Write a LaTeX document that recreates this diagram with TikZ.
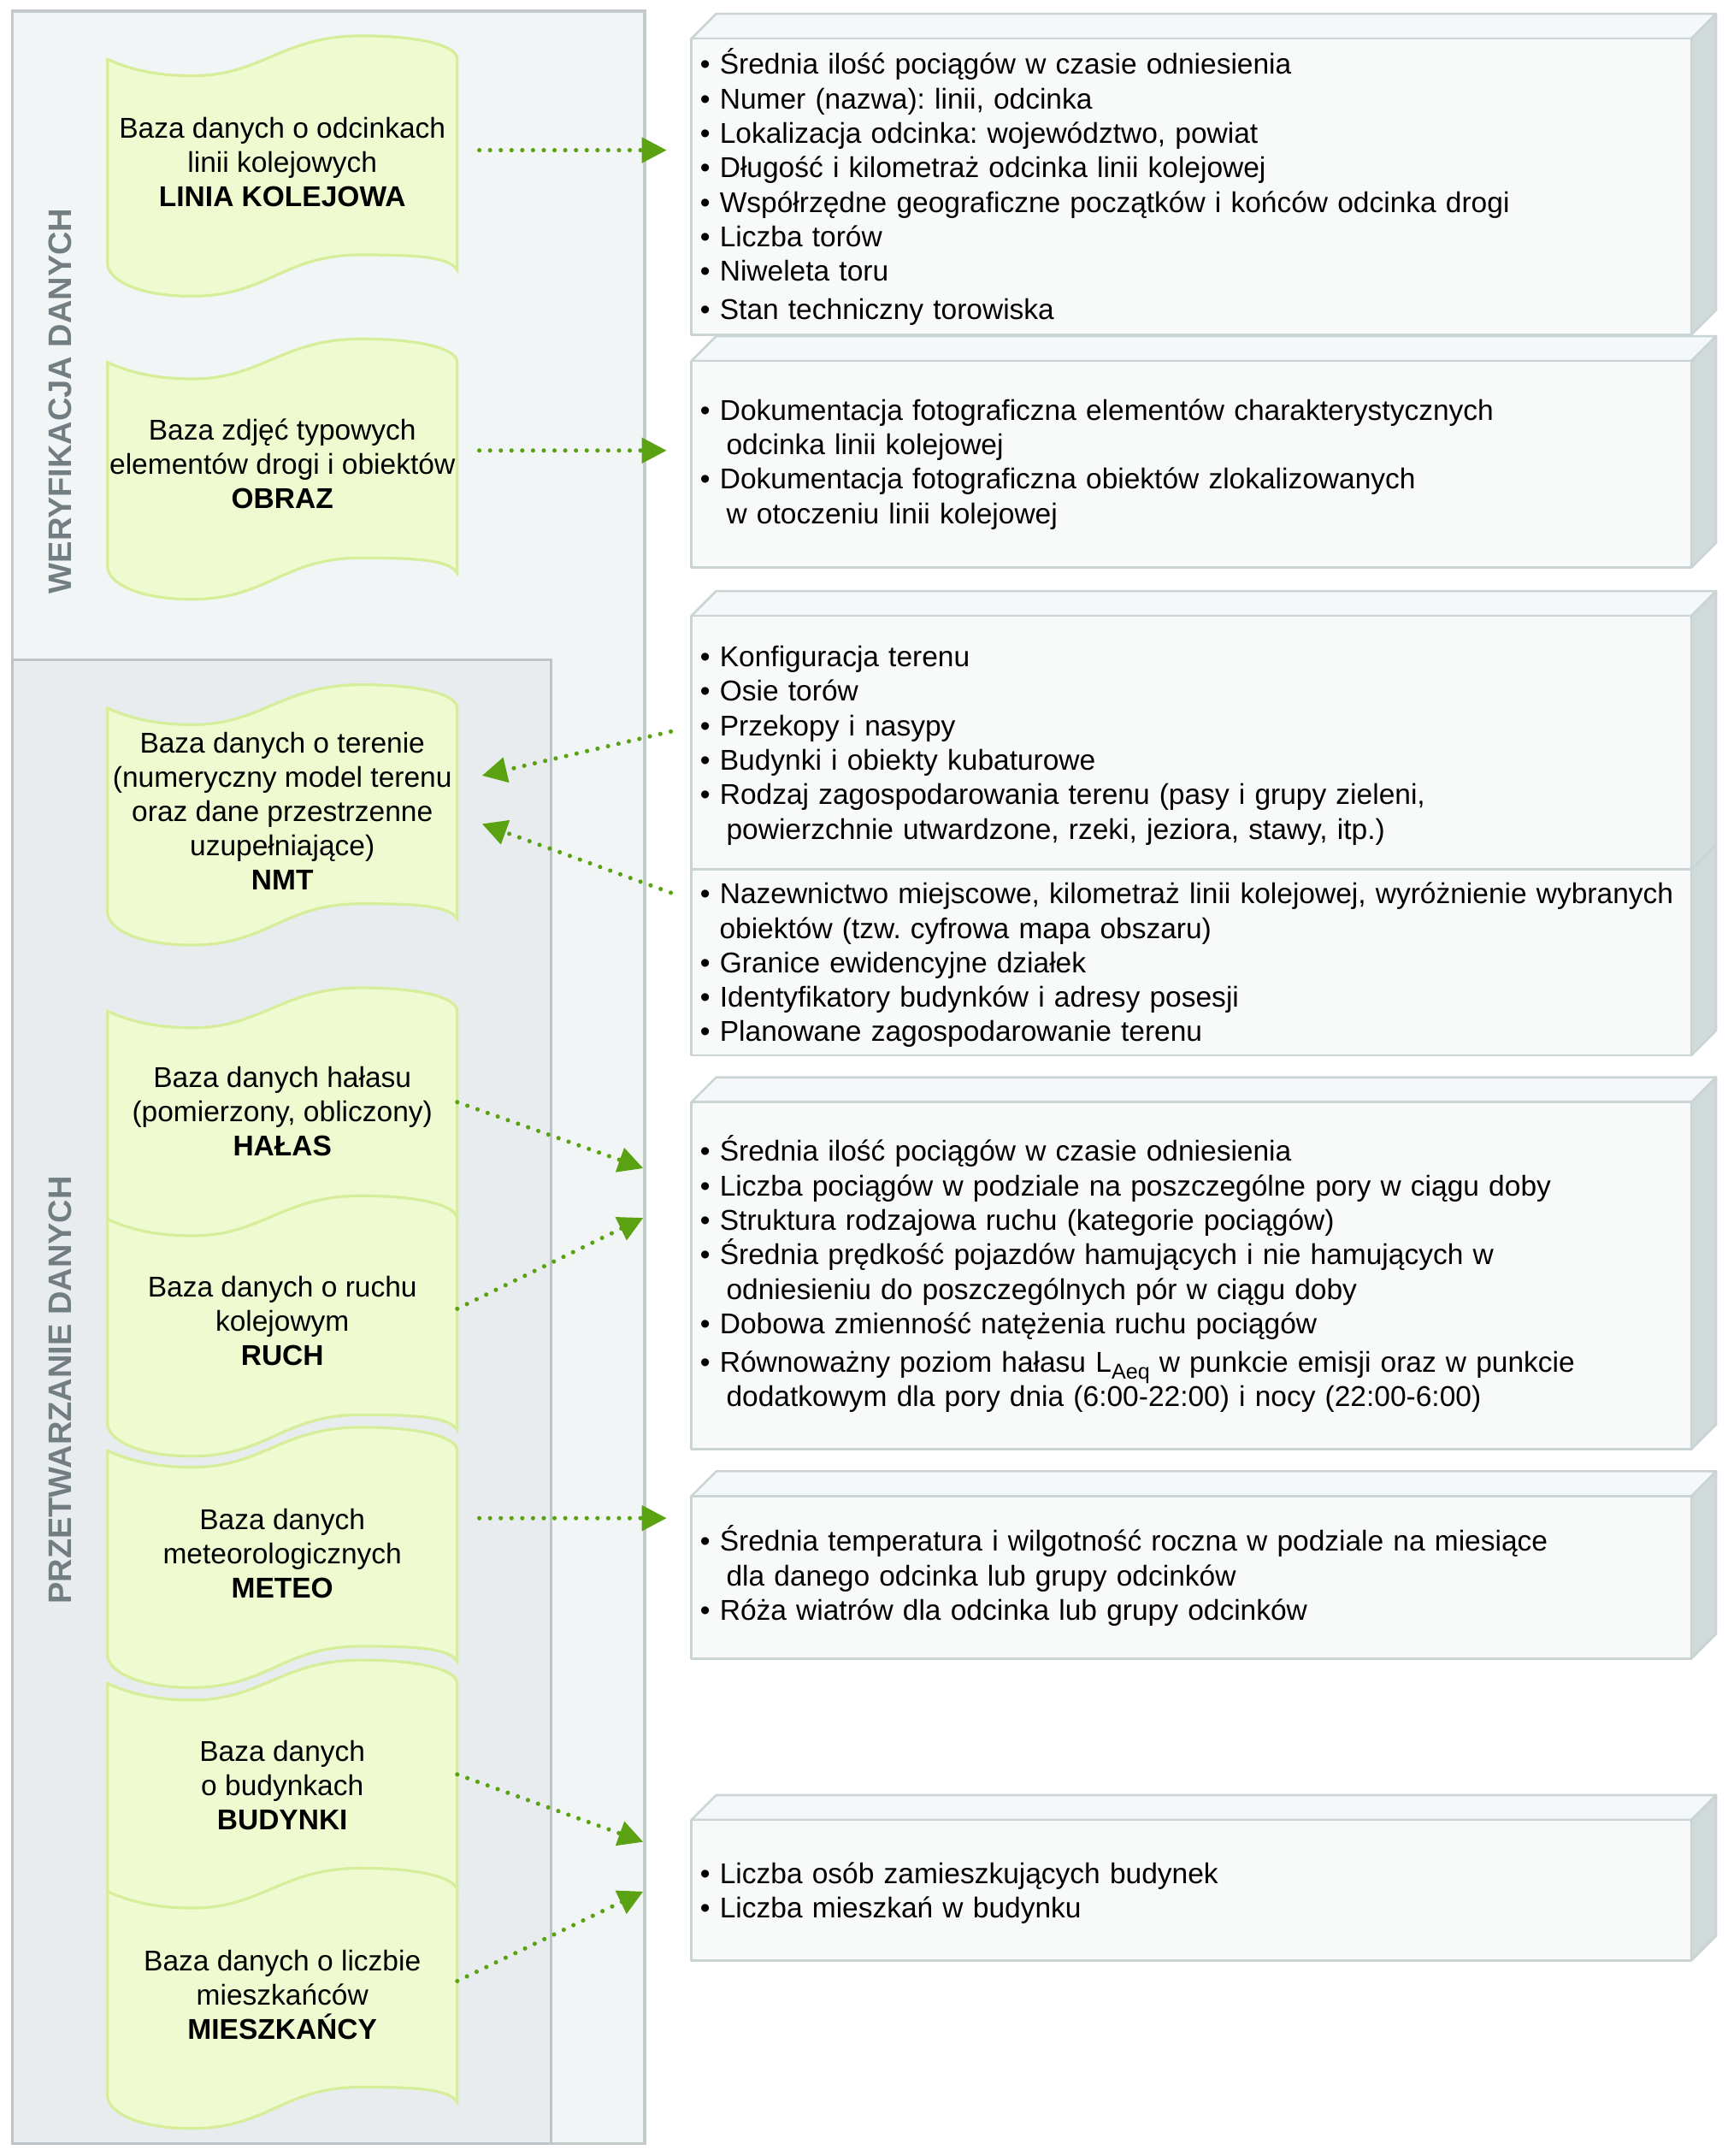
\documentclass[tikz,border=0pt]{standalone}
\usepackage{fontspec}
\setmainfont{Liberation Sans}
\usetikzlibrary{arrows.meta}
\definecolor{outerfill}{HTML}{F2F5F6}
\definecolor{outerline}{HTML}{C3CACC}
\definecolor{innerfill}{HTML}{E8ECEE}
\definecolor{innerline}{HTML}{BCC4C7}
\definecolor{docfill}{HTML}{F0FAD0}
\definecolor{docline}{HTML}{D6EE9A}
\definecolor{boxfront}{HTML}{F8FAFA}
\definecolor{boxtop}{HTML}{F5F8F8}
\definecolor{boxside}{HTML}{D0DADA}
\definecolor{boxline}{HTML}{CAD4D4}
\definecolor{arrowgreen}{HTML}{5AA212}
\definecolor{labelgray}{HTML}{737E82}
\tikzset{
  docstyle/.style={fill=docfill, draw=docline, line width=1pt},
  boxstyle/.style={draw=boxline, line width=0.8pt, line join=round},
  doctext/.style={font=\fontsize{10.4}{12.4}\selectfont, align=center, inner sep=0pt},
  righttext/.style={font=\fontsize{10.4}{12.5}\selectfont, text width=360pt, align=left, inner sep=0pt},
  sidelabel/.style={font=\bfseries\fontsize{11.8}{14}\selectfont, text=labelgray, inner sep=0pt, rotate=90},
  flow/.style={draw=arrowgreen, line width=1.6pt, line cap=round, dash pattern=on 0pt off 3.9pt, -{Triangle[length=9pt,width=9pt]}}
}
\newcommand\docshape[1]{%
  \path[docstyle, shift={(0,#1)}] (78,0) .. controls (98,9) and (118,12) .. (140,12)
    .. controls (190,12) and (205,-17) .. (262,-17)
    .. controls (305,-17) and (332,-10) .. (332,0) -- (332,153)
    .. controls (326,143) and (300,142) .. (262,142)
    .. controls (205,142) and (195,172) .. (139,172)
    .. controls (100,172) and (78,160) .. (78,148) -- cycle;}
\newcommand\tdfront[2]{%
  \path[boxstyle, fill=boxfront] (502,#1) rectangle (1228,#2);}
\newcommand\tdtop[1]{%
  \path[boxstyle, fill=boxtop] (502,#1) -- ++(18,-18) -- ++(726,0) -- ++(-18,18) -- cycle;}
\newcommand\tdside[2]{%
  \path[boxstyle, fill=boxside] (1228,#1) -- ++(18,-18) -- ++(0,#2-#1) -- ++(-18,18) -- cycle;}
\newcommand\itmf[1]{\hangindent=9.5pt\hangafter=1\noindent\textbullet\ #1}
\newcommand\itm[1]{\par\itmf{#1}}
\begin{document}
\begin{tikzpicture}[x=0.5pt, y=-0.5pt]
\frenchspacing
\path[use as bounding box, fill=white] (0,0) rectangle (1254,1565);
% panels
\path[fill=outerfill, draw=outerline, line width=1pt] (9,8) rectangle (468,1556);
\path[fill=innerfill, draw=innerline, line width=1pt] (9,479) rectangle (400,1556);
\node[sidelabel] (lab1) at (44,291) {WERYFIKACJA DANYCH};
\node[sidelabel] (lab2) at (44,1009) {PRZETWARZANIE DANYCH};
% document shapes
\docshape{43}
\docshape{263}
\docshape{514}
\docshape{734}
\docshape{885}
\docshape{1053}
\docshape{1222}
\docshape{1373}
\node[doctext, anchor=base] (linia) at (205,150) {Baza danych o odcinkach\\linii kolejowych\\\textbf{LINIA KOLEJOWA}};
\node[doctext, anchor=base] (obraz) at (205,369) {Baza zdjęć typowych\\elementów drogi i obiektów\\\textbf{OBRAZ}};
\node[doctext, anchor=base] (nmt) at (205,646) {Baza danych o terenie\\(numeryczny model terenu\\oraz dane przestrzenne\\uzupełniające)\\\textbf{NMT}};
\node[doctext, anchor=base] (halas) at (205,839) {Baza danych hałasu\\(pomierzony, obliczony)\\\textbf{HAŁAS}};
\node[doctext, anchor=base] (ruch) at (205,991) {Baza danych o ruchu\\kolejowym\\\textbf{RUCH}};
\node[doctext, anchor=base] (meteo) at (205,1160) {Baza danych\\meteorologicznych\\\textbf{METEO}};
\node[doctext, anchor=base] (budynki) at (205,1328) {Baza danych\\o budynkach\\\textbf{BUDYNKI}};
\node[doctext, anchor=base] (miesz) at (205,1480) {Baza danych o liczbie\\mieszkańców\\\textbf{MIESZKAŃCY}};
% 3D boxes
\tdtop{28}\tdfront{28}{243}\tdside{28}{243}
\tdtop{262}\tdfront{262}{412}\tdside{262}{412}
\tdtop{447}\tdfront{447}{631}\tdfront{631}{766}\tdside{447}{766}
\path[boxstyle] (1228,631) -- ++(18,-18);
\tdtop{800}\tdfront{800}{1052}\tdside{800}{1052}
\tdtop{1086}\tdfront{1086}{1204}\tdside{1086}{1204}
\tdtop{1321}\tdfront{1321}{1423}\tdside{1321}{1423}
\node[righttext, anchor=base west] (tA) at (508,54) {%
\itmf{Średnia ilość pociągów w czasie odniesienia}%
\itm{Numer (nazwa): linii, odcinka}%
\itm{Lokalizacja odcinka: województwo, powiat}%
\itm{Długość i kilometraż odcinka linii kolejowej}%
\itm{Współrzędne geograficzne początków i końców odcinka drogi}%
\itm{Liczba torów}%
\itm{Niweleta toru}%
\par\vspace{1.5pt}%
\itm{Stan techniczny torowiska}\par};
\node[righttext, anchor=base west] (tB) at (508,305) {%
\itmf{Dokumentacja fotograficzna elementów charakterystycznych\newline odcinka linii kolejowej}%
\itm{Dokumentacja fotograficzna obiektów zlokalizowanych\newline w otoczeniu linii kolejowej}\par};
\node[righttext, anchor=base west] (tC) at (508,484) {%
\itmf{Konfiguracja terenu}%
\itm{Osie torów}%
\itm{Przekopy i nasypy}%
\itm{Budynki i obiekty kubaturowe}%
\itm{Rodzaj zagospodarowania terenu (pasy i grupy zieleni,\newline powierzchnie utwardzone, rzeki, jeziora, stawy, itp.)}\par};
\node[righttext, anchor=base west] (tD) at (508,656) {%
\hangindent=7pt\hangafter=1\noindent\textbullet\ Nazewnictwo miejscowe, kilometraż linii kolejowej, wyróżnienie wybranych\newline obiektów (tzw. cyfrowa mapa obszaru)%
\itm{Granice ewidencyjne działek}%
\itm{Identyfikatory budynków i adresy posesji}%
\itm{Planowane zagospodarowanie terenu}\par};
\node[righttext, anchor=base west] (tE) at (508,843) {%
\itmf{Średnia ilość pociągów w czasie odniesienia}%
\itm{Liczba pociągów w podziale na poszczególne pory w ciągu doby}%
\itm{Struktura rodzajowa ruchu (kategorie pociągów)}%
\itm{Średnia prędkość pojazdów hamujących i nie hamujących w\newline odniesieniu do poszczególnych pór w ciągu doby}%
\itm{Dobowa zmienność natężenia ruchu pociągów}%
\par\vspace{1.5pt}%
\itm{Równoważny poziom hałasu L\raisebox{-2.5pt}{\fontsize{7.8}{8}\selectfont Aeq} w punkcie emisji oraz w punkcie\newline dodatkowym dla pory dnia (6:00-22:00) i nocy (22:00-6:00)}\par};
\node[righttext, anchor=base west] (tF) at (508,1126) {%
\itmf{Średnia temperatura i wilgotność roczna w podziale na miesiące\newline dla danego odcinka lub grupy odcinków}%
\itm{Róża wiatrów dla odcinka lub grupy odcinków}\par};
\node[righttext, anchor=base west] (tG) at (508,1367) {%
\itmf{Liczba osób zamieszkujących budynek}%
\itm{Liczba mieszkań w budynku}\par};
% arrow end points
\coordinate (liniaOut) at (348,109);  \coordinate (boxAIn) at (484,109);
\coordinate (obrazOut) at (348,327);  \coordinate (boxBIn) at (484,327);
\coordinate (boxCOut) at (487,531);   \coordinate (nmtIn1) at (350,563);
\coordinate (boxDOut) at (487,648);   \coordinate (nmtIn2) at (350,598);
\coordinate (halasOut) at (332,800);  \coordinate (boxEIn1) at (467,848);
\coordinate (ruchOut) at (332,950);   \coordinate (boxEIn2) at (467,884);
\coordinate (meteoOut) at (348,1102); \coordinate (boxFIn) at (484,1102);
\coordinate (budOut) at (332,1288);   \coordinate (boxGIn1) at (467,1337);
\coordinate (mieszOut) at (332,1438); \coordinate (boxGIn2) at (467,1373);
\draw[flow] (liniaOut) -- (boxAIn);
\draw[flow] (obrazOut) -- (boxBIn);
\draw[flow] (boxCOut) -- (nmtIn1);
\draw[flow] (boxDOut) -- (nmtIn2);
\draw[flow] (halasOut) -- (boxEIn1);
\draw[flow] (ruchOut) -- (boxEIn2);
\draw[flow] (meteoOut) -- (boxFIn);
\draw[flow] (budOut) -- (boxGIn1);
\draw[flow] (mieszOut) -- (boxGIn2);
\end{tikzpicture}
\end{document}
